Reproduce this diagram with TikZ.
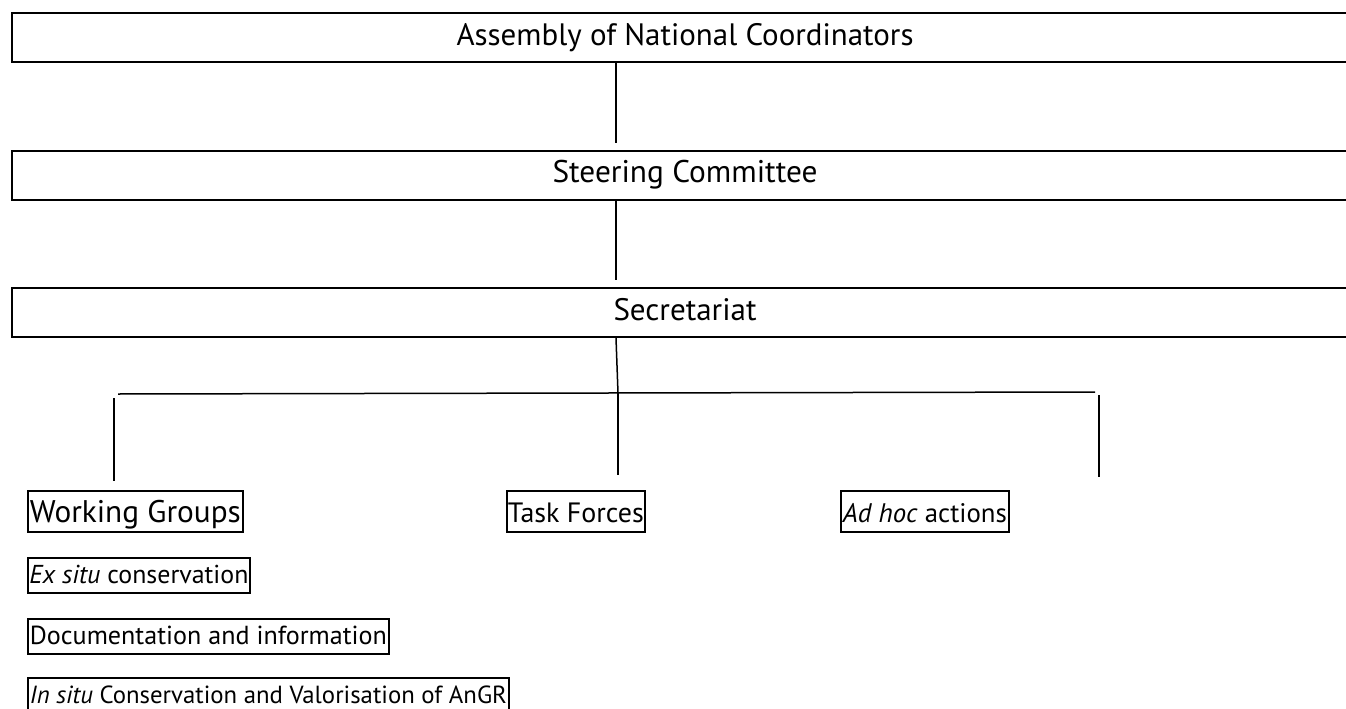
\documentclass[tikz,border=0pt]{standalone}
\usepackage{fontspec}
\setmainfont{PT Sans}[Ligatures=NoCommon]
\newsavebox{\fitbox}
\newlength{\fitlen}
\newcommand{\myfit}[2]{\sbox{\fitbox}{\fontsize{10pt}{12pt}\selectfont #2}\fitlen=\wd\fitbox\relax\pgfmathsetmacro{\fitsz}{10*#1/\fitlen}\fontsize{\fitsz pt}{\fitsz pt}\selectfont #2}
\tikzset{
  widebox/.style={draw, line width=2pt, minimum width=1346pt, minimum height=49pt,
    inner sep=0pt, anchor=north west, text height=24pt, text depth=9pt},
  bigbox/.style={draw, line width=1.8pt, inner sep=0pt, anchor=north west,
    minimum height=41pt, text height=29pt, text depth=6pt},
  smallbox/.style={draw, line width=1.8pt, inner sep=0pt, anchor=north west,
    minimum height=35pt, text height=24pt, text depth=7pt},
  conn/.style={line width=1.5pt}
}
\begin{document}
\begin{tikzpicture}[x=1pt,y=-1pt]
\useasboundingbox (0,0) rectangle (1346,709);
\begin{scope}
\clip (0,0) rectangle (1346,709);
% top hierarchy boxes
\node[widebox] (asm) at (11,12.5) {\myfit{457}{Assembly of National Coordinators}};
\node[widebox] (steer) at (11,149.5) {\myfit{265}{Steering Committee}};
\node[widebox] (secr) at (11,287) {\myfit{143}{Secretariat}};
% lower boxes
\node[bigbox, minimum width=215pt] (wg) at (27,490) {\myfit{211}{Working Groups}};
\node[bigbox, minimum width=138pt] (tf) at (506,490) {\myfit{136}{Task Forces}};
\node[bigbox, minimum width=168pt] (ah) at (840,490) {\myfit{164}{\textit{Ad hoc} actions}};
\node[smallbox, minimum width=222pt] (es) at (27,557) {\myfit{219}{\textit{Ex situ} conservation}};
\node[smallbox, minimum width=361pt] (di) at (27,618) {\myfit{357}{Documentation and information}};
\node[smallbox, minimum width=481pt] (is) at (27,677) {\myfit{477}{\textit{In situ} Conservation and Valorisation of AnGR}};
% connector end points
\coordinate (c1) at (616,143);
\coordinate (c2) at (616,280);
\coordinate (s0) at (616,0);
\coordinate (j) at (618,393);
\coordinate (hl) at (118,394);
\coordinate (hr) at (1095,392);
\coordinate (vlt) at (114,398);
\coordinate (vlb) at (114,481);
\coordinate (vmb) at (618,475);
\coordinate (vrt) at (1099,395);
\coordinate (vrb) at (1099,477);
% connectors
\draw[conn] (asm.south -| c1) -- (c1);
\draw[conn] (steer.south -| c2) -- (c2);
\draw[conn] (secr.south -| s0) -- (j);
\draw[conn] (hl) -- (hr);
\draw[conn] (vlt) -- (vlb);
\draw[conn] (j) -- (vmb);
\draw[conn] (vrt) -- (vrb);
\end{scope}
\end{tikzpicture}
\end{document}
